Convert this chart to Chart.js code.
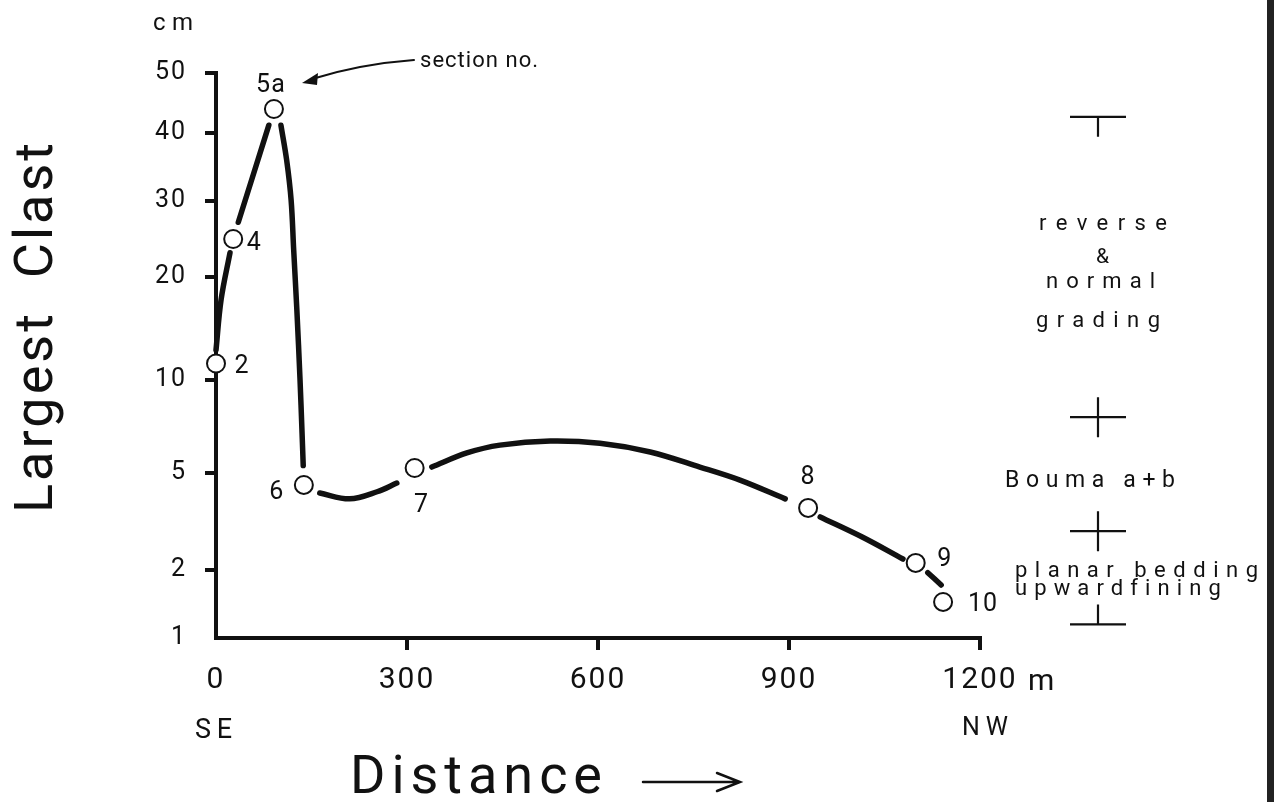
<!DOCTYPE html>
<html>
<head>
<meta charset="utf-8">
<script src="https://cdn.jsdelivr.net/npm/chart.js@4.4.0/dist/chart.umd.min.js"></script>
<style>
    html, body { margin: 0; background: #ffffff; }
    #wrap { width: 1278px; height: 802px; }
</style>
</head>
<body>
<div id="wrap"><canvas id="mainChart" width="1278" height="802"></canvas></div>
<script>
// y axis of the figure is hand drawn: neither linear nor log
const yTickValues = [1, 2, 5, 10, 20, 30, 40, 50];
const yTickLabels = ['1', '2', '5', '10', '20', '30', '40', '50'];
// where each tick sits along the axis (axis units, bottom = 0)
const yAxisStops = [0, 68, 165, 258, 361, 437, 505, 565];

// sections
const sectionNames = ['2', '4', '5a', '6', '7', '8', '9', '10'];
const sectionDist = [0, 27, 91, 138, 312, 930, 1099, 1142];
const sectionClast = [11.6, 25, 44, 4.63, 5.27, 3.92, 2.22, 1.53];

// the pen curve; null = break in the line
const curveDist = [0, 8, 22, null, 35, 83, null, 102, 111, 118, 122, 127, 132, 135, 137, null,
    163, 210, 253, 284, null, 339, 394, 446, 525, 603, 682, 760, 823, 894, null,
    949, 1015, 1079, null, 1118, 1139];
const curveClast = [12.9, 17.8, 23.2, null, 27.2, 41.3, null, 41.3, 36.0, 30.1, 23.6, 16.8, 10.0, 7.3, 5.4, null,
    4.38, 4.2, 4.42, 4.69, null, 5.32, 6.08, 6.5, 6.72, 6.6, 6.13, 5.32, 4.78, 4.2, null,
    3.64, 3.02, 2.34, null, 1.96, 1.78];

// grading classes on the right (clast size limits)
const gradingBounds = [42.7, 8, 3.2, 1.2];

function toAxis(v) {
    if (v == null) return null;
    for (let i = 1; i < yTickValues.length; i++) {
        if (v <= yTickValues[i] || i == yTickValues.length - 1) {
            const a = yTickValues[i - 1], b = yTickValues[i];
            return yAxisStops[i - 1] + (v - a) / (b - a) * (yAxisStops[i] - yAxisStops[i - 1]);
        }
    }
}

const FONT = 'Roboto';
Chart.defaults.font.family = FONT;
Chart.defaults.color = '#111';

function spaced(ctx, s, x, y, size, width, align) {
    ctx.font = size + 'px ' + FONT;
    ctx.letterSpacing = '0px';
    const w0 = ctx.measureText(s).width;
    const sp = s.length > 1 ? (width - w0) / (s.length - 1) : 0;
    ctx.letterSpacing = sp + 'px';
    ctx.textAlign = 'left';
    ctx.textBaseline = 'alphabetic';
    let left = x;
    if (align == 'center') left = x - width / 2;
    if (align == 'right') left = x - width;
    ctx.fillText(s, left, y);
    ctx.letterSpacing = '0px';
}

const labelOffsets = [[26, 0], [21, 2], [-3, -26], [-27, 5], [7, 35], [0, -33], [29, -6], [40, 0]];

const extras = {
    id: 'extras',
    beforeDraw(chart) {
        chart.ctx.letterSpacing = '2px';
    },
    afterDraw(chart) {
        const ctx = chart.ctx;
        const y = chart.scales.y;
        ctx.save();
        ctx.fillStyle = '#111';
        ctx.strokeStyle = '#111';

        // section numbers
        const pts = chart.getDatasetMeta(0).data;
        ctx.font = '25px ' + FONT;
        ctx.letterSpacing = '1px';
        ctx.textAlign = 'center';
        ctx.textBaseline = 'alphabetic';
        pts.forEach((p, i) => {
            ctx.fillText(sectionNames[i], p.x + labelOffsets[i][0], p.y + labelOffsets[i][1] + 9);
        });
        ctx.letterSpacing = '0px';

        // axis texts
        spaced(ctx, 'cm', 153, 30, 24, 40, 'left');
        spaced(ctx, 'm', 1028, 690, 30, 28, 'left');
        spaced(ctx, 'SE', 195, 738, 27, 37, 'left');
        spaced(ctx, 'NW', 962, 735, 25, 46, 'left');
        spaced(ctx, 'Distance', 350, 793, 54, 252, 'left');

        ctx.save();
        ctx.translate(52, 513);
        ctx.rotate(-Math.PI / 2);
        spaced(ctx, 'Largest  Clast', 0, 0, 54, 370, 'left');
        ctx.restore();

        // distance arrow
        ctx.lineWidth = 2.5;
        ctx.lineCap = 'round';
        ctx.beginPath();
        ctx.moveTo(643, 782); ctx.lineTo(738, 782);
        ctx.moveTo(717, 773); ctx.lineTo(740, 782); ctx.lineTo(717, 791);
        ctx.stroke();

        // section no. pointer
        spaced(ctx, 'section no.', 420, 67, 22, 118, 'left');
        ctx.lineWidth = 2;
        ctx.beginPath();
        ctx.moveTo(414, 60);
        ctx.quadraticCurveTo(360, 64, 312, 79);
        ctx.stroke();
        ctx.beginPath();
        ctx.moveTo(302, 83); ctx.lineTo(318, 73); ctx.lineTo(317, 85); ctx.closePath();
        ctx.fill();

        // grading column
        const gx = 1098;
        ctx.lineWidth = 2.2;
        ctx.lineCap = 'butt';
        gradingBounds.forEach((v, i) => {
            const py = y.getPixelForValue(toAxis(v));
            ctx.beginPath();
            ctx.moveTo(gx - 28, py); ctx.lineTo(gx + 28, py);
            const up = i > 0 ? 20 : 0, down = i < gradingBounds.length - 1 ? 20 : 0;
            ctx.moveTo(gx, py - up); ctx.lineTo(gx, py + down);
            ctx.stroke();
        });
        spaced(ctx, 'reverse', 1039, 230, 22, 128, 'left');
        spaced(ctx, '&', 1103, 263, 21, 14, 'center');
        spaced(ctx, 'normal', 1046, 288, 22, 109, 'left');
        spaced(ctx, 'grading', 1036, 327, 22, 124, 'left');
        spaced(ctx, 'Bouma a+b', 1005, 487, 23, 170, 'left');
        spaced(ctx, 'planar bedding', 1015, 577, 22, 243, 'left');
        spaced(ctx, 'upwardfining', 1015, 595, 22, 205, 'left');

        // frame line on the right
        ctx.fillStyle = '#222';
        ctx.fillRect(1267, 0, 7, 802);
        ctx.restore();
    }
};

const sectionData = sectionDist.map((x, i) => ({x: x, y: toAxis(sectionClast[i])}));
const curveData = curveDist.map((x, i) => ({x: x, y: toAxis(curveClast[i])}));

const ctx = document.getElementById('mainChart').getContext('2d');
const chart = new Chart(ctx, {
    type: 'scatter',
    data: {
        datasets: [{
            label: 'sections',
            data: sectionData,
            pointStyle: 'circle',
            pointRadius: 9,
            pointBorderWidth: 2,
            pointBackgroundColor: '#ffffff',
            pointBorderColor: '#111',
            showLine: false,
            clip: false
        }, {
            type: 'line',
            label: 'trend',
            data: curveData,
            borderColor: '#111',
            borderWidth: 5.5,
            borderCapStyle: 'round',
            borderJoinStyle: 'round',
            tension: 0.35,
            pointRadius: 0,
            spanGaps: false,
            fill: false,
            clip: false
        }]
    },
    options: {
        responsive: false,
        animation: false,
        devicePixelRatio: 1,
        events: [],
        layout: { padding: { left: 0, top: 73, right: 298, bottom: 0 } },
        plugins: {
            legend: { display: false },
            tooltip: { enabled: false }
        },
        scales: {
            x: {
                type: 'linear',
                min: 0,
                max: 1200,
                ticks: {
                    stepSize: 300,
                    font: { size: 30 },
                    padding: 12,
                    color: '#111',
                    callback: (val) => String(val)
                },
                grid: {
                    drawOnChartArea: false,
                    drawTicks: true,
                    tickLength: 12,
                    lineWidth: 4,
                    color: (c) => (c.tick && c.tick.value == 0) ? 'rgba(0,0,0,0)' : '#111'
                },
                border: { display: true, width: 4, color: '#111' },
                afterFit: (s) => { s.height = 164; }
            },
            y: {
                type: 'linear',
                min: 0,
                max: yAxisStops[yAxisStops.length - 1],
                afterBuildTicks: (s) => { s.ticks = yTickValues.map(v => ({value: toAxis(v)})); },
                ticks: {
                    font: { size: 25 },
                    padding: 18,
                    color: '#111',
                    callback: (val, i) => yTickLabels[i]
                },
                grid: {
                    drawOnChartArea: false,
                    drawTicks: true,
                    tickLength: 11,
                    lineWidth: 4,
                    color: (c) => (c.tick && c.tick.value == 0) ? 'rgba(0,0,0,0)' : '#111'
                },
                border: { display: true, width: 4, color: '#111' },
                afterFit: (s) => { s.width = 216; }
            }
        }
    },
    plugins: [extras]
});
</script>
</body>
</html>
